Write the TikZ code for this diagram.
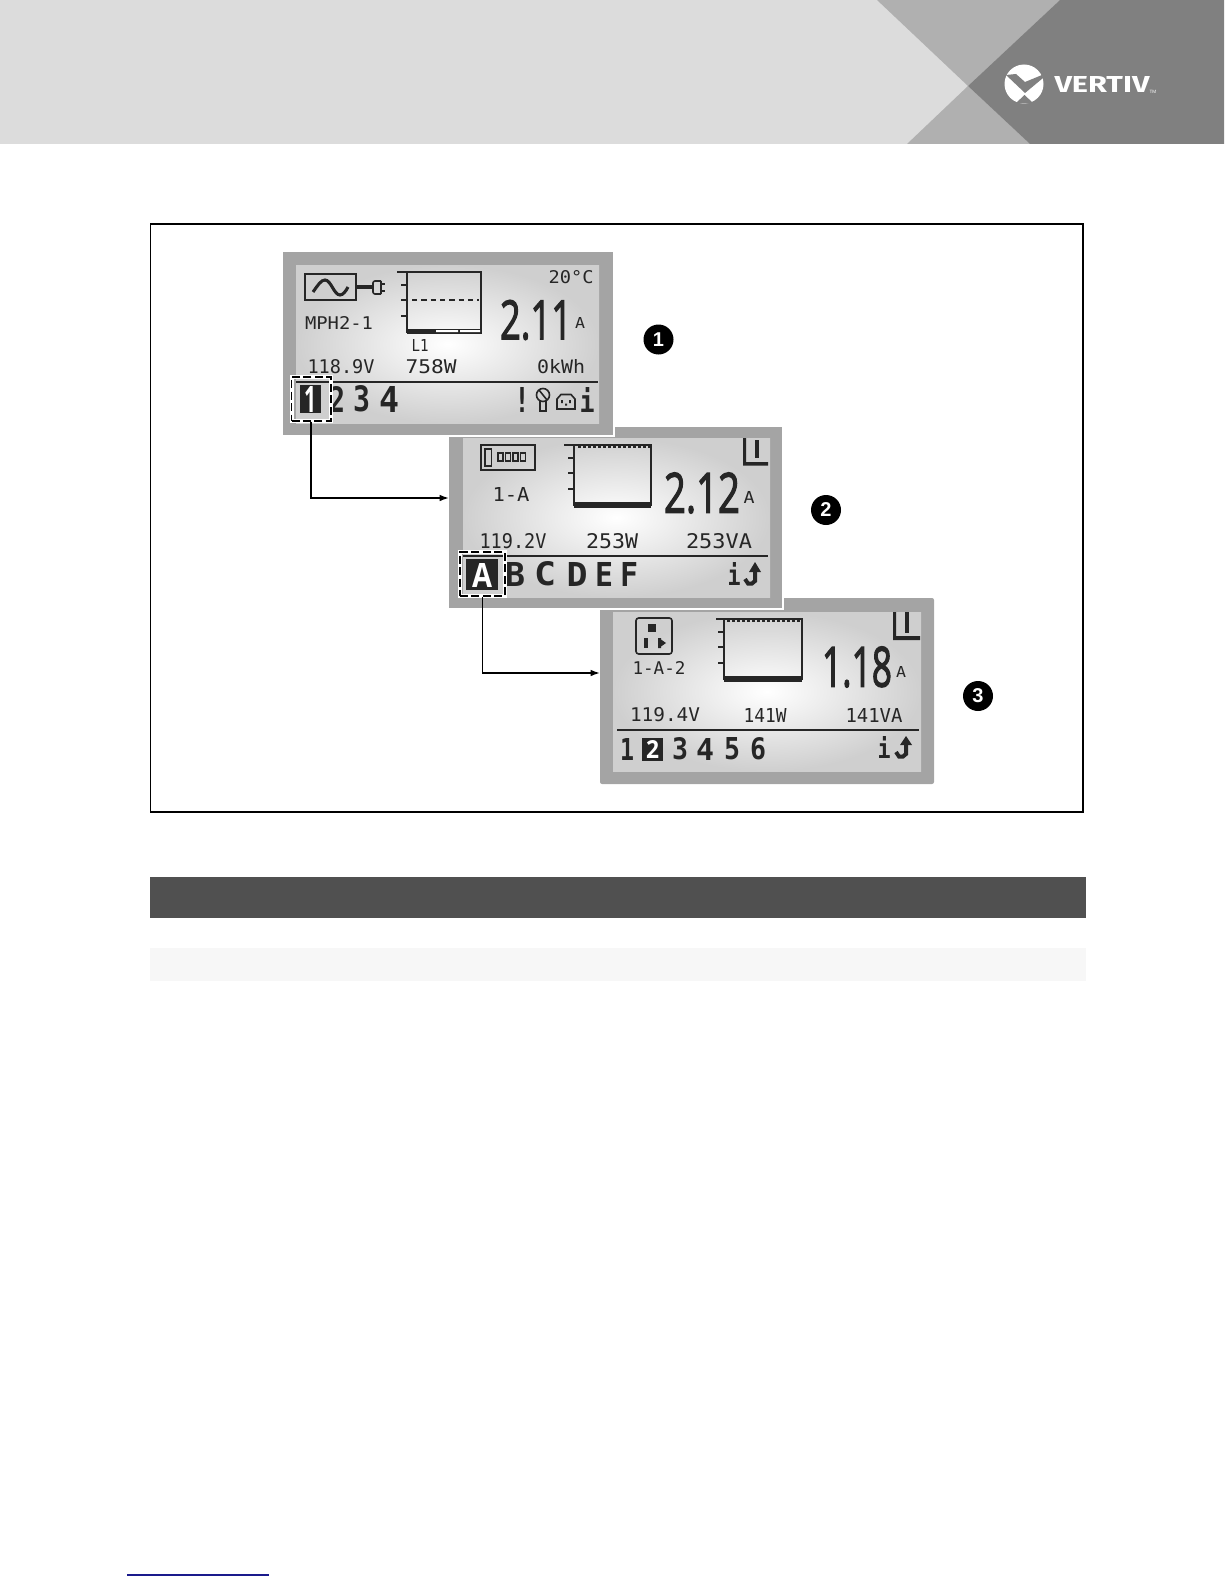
\documentclass[tikz,border=0pt]{standalone}
\usepackage{graphicx}
\usepackage{fontspec}
\setmainfont{Liberation Sans}
\setmonofont{DejaVu Sans Mono}
\newfontfamily\logofont{Fira Sans}
\newfontfamily\numfont[FakeBold=2.5]{Open Sans}
\newfontfamily\selfont{Open Sans}
\usetikzlibrary{fit,arrows.meta,calc}
\definecolor{ink}{HTML}{262626}
\definecolor{hdrlight}{HTML}{DCDCDC}
\definecolor{hdrmid}{HTML}{B0B0B0}
\definecolor{hdrdark}{HTML}{808080}
\definecolor{bezel}{HTML}{A4A4A4}
\definecolor{lcdedge}{HTML}{CFCFCF}
\definecolor{bar}{HTML}{505050}
\definecolor{rowbg}{HTML}{F7F7F7}
\definecolor{linkblue}{HTML}{1A1A8C}
\newdimen\pxu \pxu=0.75pt
\newcommand{\txt}[6]{\node[txtnode] (#1) at (#2,#3) {\resizebox{#4\pxu}{#5\pxu}{#6}};}
\newcommand{\mono}[6]{\txt{#1}{#2}{#3}{#4}{#5}{\ttfamily #6}}
\newcommand{\tab}[6]{\txt{#1}{#2}{#3}{#4}{#5}{\ttfamily\bfseries #6}}
\newcommand{\bignum}[6]{\txt{#1}{#2}{#3}{#4}{#5}{\numfont #6}}
\newcommand{\tabsel}[6]{\node[txtnode,text=white] (#1) at (#2,#3) {\resizebox{#4\pxu}{#5\pxu}{\selfont\bfseries #6}};}
\newcommand{\boxat}[6]{\node[fit={(#3,#4)(#5,#6)},inner sep=0pt,#2] (#1) {};}
\tikzset{
  txtnode/.style={inner sep=0pt,outer sep=0pt,text=ink},
  bezelbox/.style={fill=bezel},
  halo/.style={fill=white},
  rulemark/.style={draw=ink,line width=1.5pt},
  graphline/.style={draw=ink,line width=1.1pt},
  icon/.style={draw=ink,line width=1.2pt},
  solidink/.style={fill=ink},
  selbox/.style={draw=black,line width=0.9pt,dash pattern=on 6pt off 2.6pt,preaction={draw=white,solid,line width=3pt}},
  conn/.style={draw=black,line width=1.25pt,-{Latex[length=7pt,width=5pt]}},
  badge/.style={circle,fill=black,text=white,inner sep=0pt,minimum size=22.5pt,font=\fontsize{15}{15}\selectfont\bfseries}
}
\begin{document}
\begin{tikzpicture}[x=0.75pt,y=-0.75pt]
\useasboundingbox (0,0) rectangle (1224,1584);
% header band
\fill[hdrlight] (0,0) rectangle (1224,144);
\fill[hdrmid] (877,0) -- (1060,0) -- (968,86) -- cycle;
\fill[hdrmid] (968,86) -- (907,144) -- (1030,144) -- cycle;
\fill[hdrdark] (1060,0) -- (1224,0) -- (1224,144) -- (1030,144) -- (968,86) -- cycle;
% logo
\fill[white] (1024,84) circle (19.5);
\fill[hdrdark] (1006,75) -- (1016,74) -- (1025,82) -- (1042,75) -- (1043,78) -- (1025,93) -- cycle;
\fill[hdrdark] (1016,103) -- (1024.5,95) -- (1033,103) -- cycle;
\node[txtnode,text=white] (brand) at (1102,85) {\resizebox{95\pxu}{16\pxu}{\logofont\bfseries VERTIV}};
\node[txtnode,text=white,font=\fontsize{3.5}{4}\selectfont] (tm) at (1153,92) {TM};
% figure frame
\boxat{frame}{draw=black,line width=1.1pt}{150.5}{224}{1083}{812}
% table bars
\boxat{hdrbar}{fill=bar}{150}{877}{1086}{918}
\boxat{rowbar}{fill=rowbg}{150}{948}{1086}{981}
% footer link rule
\coordinate (linkA) at (127,1575);
\coordinate (linkB) at (269,1575);
\draw[linkblue,line width=1pt] (linkA) -- (linkB);

% ===== panel 3
\boxat{panelC}{bezelbox,rounded corners=1.5pt}{600}{598}{934}{784}
\shade[inner color=white,outer color=lcdedge] (613,612) rectangle (921,771);
\draw[icon,rounded corners=2pt] (636,618) rectangle (672,654);
\fill[ink] (648,624) rectangle (656,632);
\fill[ink] (644,638) rectangle (647.5,648);
\fill[ink] (658,638) rectangle (661,648) (661,639.5) -- (666,643) -- (661,646.5) -- cycle;
\mono{labC}{659}{668}{53}{13}{1-A-2}
\draw[graphline] (716,619) -- (802,619) -- (802,679) -- (724,679) -- (724,619);
\foreach \yy in {632,647,663} \draw[graphline] (718,\yy) -- (724,\yy);
\draw[ink,line width=2pt,dash pattern=on 2pt off 1.75pt] (727,621) -- (802,621);
\fill[ink] (724,676) rectangle (802,682);
\fill[ink] (893,612) rectangle (896,638) (893,636) rectangle (920,640);
\fill[ink] (905,612) rectangle (909,633);
\bignum{ampC}{857}{667}{70}{40}{1.18}
\mono{unitC}{901}{672}{10}{11}{A}
\mono{voltC}{665}{715}{70}{14}{119.4V}
\mono{powC}{765}{715}{43}{14}{141W}
\mono{vaC}{874}{715}{57}{14}{141VA}
\draw[rulemark] (617,730) -- (919,730);
\tab{tabCa}{627}{749}{14}{22}{1}
\boxat{selC}{solidink}{642}{738}{663}{761}
\tabsel{tabCb}{652.5}{749.5}{13}{18}{2}
\tab{tabCc}{680}{749}{16}{22}{3}
\tab{tabCd}{705}{749}{18}{22}{4}
\tab{tabCe}{732}{749}{16}{22}{5}
\tab{tabCf}{758}{749}{16}{22}{6}
\tab{infoC}{884}{747}{13}{22}{i}
\draw[ink,line width=3pt] (906,744) -- (906,754) -- (903,756.5) -- (899,756.5) -- (896,752);
\fill[ink] (906,736) -- (912,745) -- (900,745) -- cycle;

% ===== panel 2
\boxat{haloB}{halo}{447}{425}{784}{610}
\boxat{panelB}{bezelbox}{449}{427}{782}{608}
\shade[inner color=white,outer color=lcdedge] (463,438) rectangle (770,597);
\draw[icon] (481,445) rectangle (535,470);
\draw[icon] (485,449) rectangle (491.5,466);
\foreach \xx in {498,505.5,513,520.5} \draw[ink,line width=1.2pt] (\xx,453) rectangle (\xx+5,461);
\mono{labB}{511}{494}{37}{14}{1-A}
\draw[graphline] (564,445) -- (651,445) -- (651,505) -- (574,505) -- (574,445);
\foreach \yy in {458,473,489} \draw[graphline] (568,\yy) -- (574,\yy);
\draw[ink,line width=2pt,dash pattern=on 2pt off 1.75pt] (578,447) -- (651,447);
\fill[ink] (574,502) rectangle (651,508);
\fill[ink] (743,438) rectangle (746,462) (743,462) rectangle (768,465.5);
\fill[ink] (755,440) rectangle (759,458);
\bignum{ampB}{702}{493}{76}{40}{2.12}
\mono{unitB}{749}{497}{11}{12}{A}
\mono{voltB}{513}{541}{67}{15}{119.2V}
\mono{powB}{612}{541}{52}{15}{253W}
\mono{vaB}{719}{541}{66}{15}{253VA}
\draw[rulemark] (463,556) -- (768,556);
\boxat{selB}{solidink}{466}{559}{498}{590}
\tabsel{tabBa}{482}{575}{20}{24}{A}
\tab{tabBb}{515}{574}{20}{24}{B}
\tab{tabBc}{545}{574}{22}{24}{C}
\tab{tabBd}{577}{574}{21}{24}{D}
\tab{tabBe}{604}{574}{18}{24}{E}
\tab{tabBf}{629}{574}{18}{24}{F}
\tab{infoB}{734}{574}{13}{23}{i}
\draw[ink,line width=3pt] (755,571) -- (755,581) -- (752,583.5) -- (748,583.5) -- (745,579);
\fill[ink] (755,562) -- (761,572) -- (749,572) -- cycle;
\coordinate (entryC) at (600,673);
\boxat{dashB}{selbox}{460}{552}{505}{596}
\draw[conn] (dashB.south) |- (entryC);

% ===== panel 1
\boxat{haloA}{halo}{281}{250}{615}{437}
\boxat{panelA}{bezelbox}{283}{252}{613}{435}
\shade[inner color=white,outer color=lcdedge] (296,265) rectangle (599,423);
\draw[icon] (305,274) rectangle (356,300);
\draw[ink,line width=2.3pt] (313,292) .. controls (318,285) and (321,280) .. (325,280) .. controls (331,280) and (334,295) .. (340,295) .. controls (343,295) and (346,291) .. (348,287);
\draw[ink,line width=3pt] (356,287) -- (372,287);
\draw[icon,rounded corners=1.5pt] (381,281) -- (373,281) -- (373,294) -- (381,294);
\draw[ink,line width=1.2pt] (381,284) -- (385,284) (381,291) -- (385,291) (381,281) -- (381,294);
\mono{labA}{339}{323}{68}{13}{MPH2-1}
\draw[graphline] (397,272) -- (481,272) -- (481,332) -- (407,332) -- (407,272);
\foreach \yy in {285,300,316} \draw[graphline] (401,\yy) -- (407,\yy);
\draw[ink,line width=1.2pt,dash pattern=on 4pt off 3pt] (412,300) -- (479,300);
\fill[ink] (407,329) rectangle (482,334);
\fill[white] (436,330) rectangle (458,332) (460,330) rectangle (480,332);
\mono{phaseA}{420}{345}{17}{12}{L1}
\mono{tempA}{571}{277}{45}{13}{20°C}
\bignum{ampA}{536}{320}{72}{39}{2.11}
\mono{unitA}{580}{323}{10}{11}{A}
\mono{voltA}{341}{367}{67}{14}{118.9V}
\mono{powA}{431}{367}{51}{14}{758W}
\mono{enA}{561}{367}{48}{14}{0kWh}
\draw[rulemark] (296,382) -- (598,382);
\boxat{selA}{solidink}{300}{385}{321}{413}
\tabsel{tabAa}{310.5}{399}{12}{26}{1}
\tab{tabAb}{337}{399}{16}{26}{2}
\tab{tabAc}{362}{399}{17}{26}{3}
\tab{tabAd}{389}{399}{20}{26}{4}
\tab{alarmA}{522}{399.5}{16}{25}{!}
\draw[icon] (543,395) circle (6.5);
\draw[ink,line width=1.2pt] (540,401) -- (540,411) -- (546,411) -- (546,401) (539,390) -- (547,400);
\draw[ink,line width=1.2pt] (557,409) -- (557,399) -- (561,394.5) -- (571,394.5) -- (575,399) -- (575,409) -- cycle;
\fill[ink] (561,400) rectangle (562.8,403) (569,400) rectangle (570.8,403) (565,403.5) rectangle (567,405.5);
\tab{infoA}{587}{399.5}{15}{25}{i}
\coordinate (entryB) at (449,498);
\boxat{dashA}{selbox}{291.5}{377}{331}{421}
\draw[conn] (dashA.south) |- (entryB);

% callout badges
\node[badge] (one) at (658.5,339.5) {1};
\node[badge] (two) at (826,510) {2};
\node[badge] (three) at (978,696) {3};
\end{tikzpicture}
\end{document}
